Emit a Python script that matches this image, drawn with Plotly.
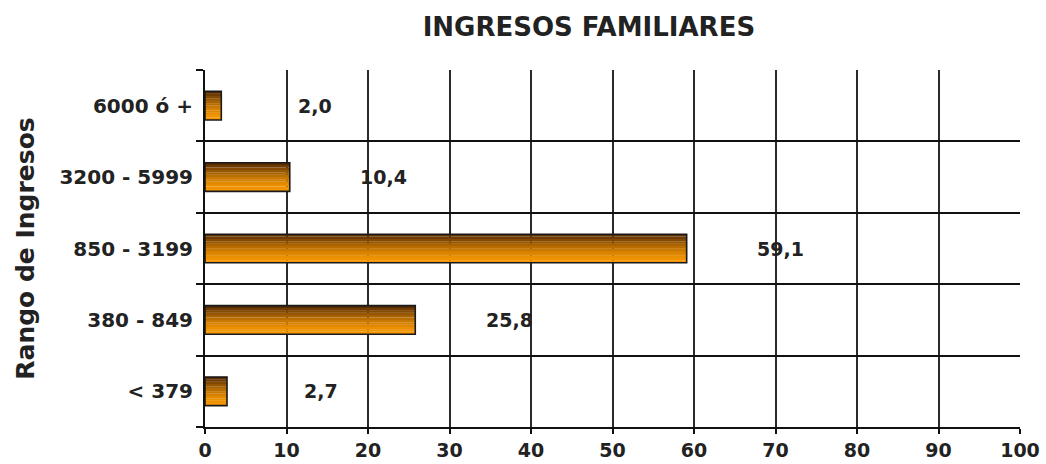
import plotly.graph_objects as go

categories = ["< 379", "380 - 849", "850 - 3199", "3200 - 5999", "6000 ó +"]
values = [2.7, 25.8, 59.1, 10.4, 2.0]
x_ticks = list(range(0, 101, 10))

title_text = "INGRESOS FAMILIARES"
y_title = "Rango de Ingresos"

FONT = "DejaVu Sans"
bar_w = 0.4
n_strip = 12
dark = (90, 45, 0)
light = (245, 150, 0)

fig = go.Figure()

# gradient: horizontal stripes, bottom light -> top dark
for i in range(n_strip):
    t = i / (n_strip - 1)
    t2 = t ** 1.6
    c = tuple(int(light[k] + (dark[k] - light[k]) * t2) for k in range(3))
    fig.add_trace(go.Bar(
        x=values, y=categories, orientation="h",
        width=bar_w / n_strip + 0.002,
        offset=-bar_w / 2 + i * bar_w / n_strip,
        marker=dict(color="rgb(%d,%d,%d)" % c, line=dict(width=0)),
        hoverinfo="skip", showlegend=False,
    ))

# outline
fig.add_trace(go.Bar(
    x=values, y=categories, orientation="h",
    width=bar_w, offset=-bar_w / 2,
    marker=dict(color="rgba(0,0,0,0)", line=dict(color="#1a1a1a", width=1.6)),
    showlegend=False,
))

for v, c in zip(values, categories):
    fig.add_annotation(
        x=v + 11.5, y=c, text="<b>" + ("%.1f" % v).replace(".", ",") + "</b>",
        showarrow=False, font=dict(family=FONT, size=19, color="#222222"),
        xanchor="center", yanchor="middle",
    )

fig.update_layout(
    width=1046, height=464,
    margin=dict(l=205, r=26, t=70, b=37),
    paper_bgcolor="white", plot_bgcolor="white",
    barmode="overlay",
    title=dict(text="<b>" + title_text + "</b>", x=0.563, xanchor="center",
               y=0.942, yanchor="middle",
               font=dict(family=FONT, size=26, color="#222222")),
    font=dict(family=FONT, color="#222222"),
)

fig.update_xaxes(
    range=[0, 100], tickvals=x_ticks, ticktext=["<b>%d</b>" % t for t in x_ticks],
    showgrid=True, gridcolor="#2a2a2a", gridwidth=2,
    showline=True, linecolor="#111111", linewidth=2,
    ticks="outside", ticklen=5, tickcolor="#111111", tickwidth=2,
    tickfont=dict(family=FONT, size=19, color="#222222"),
    zeroline=False, fixedrange=True, automargin=False,
)
fig.update_yaxes(
    type="category", categoryorder="array", categoryarray=categories,
    tickson="boundaries", ticks="outside", ticklen=7, tickcolor="#111111", tickwidth=2,
    showgrid=True, gridcolor="#111111", gridwidth=2,
    showline=True, linecolor="#111111", linewidth=2,
    tickvals=categories, ticktext=["<b>%s</b>" % c for c in categories],
    tickfont=dict(family=FONT, size=20, color="#222222"),
    ticklabelstandoff=6,
    title=dict(text="<b>" + y_title + "</b>", font=dict(family=FONT, size=25, color="#222222"),
               standoff=18),
    range=[-0.5, 4.5], fixedrange=True, automargin=False,
)

fig.write_html(
    "out.html",
    config={"displayModeBar": False},
    post_script="document.body.style.margin='0';document.body.style.overflow='hidden';",
)
